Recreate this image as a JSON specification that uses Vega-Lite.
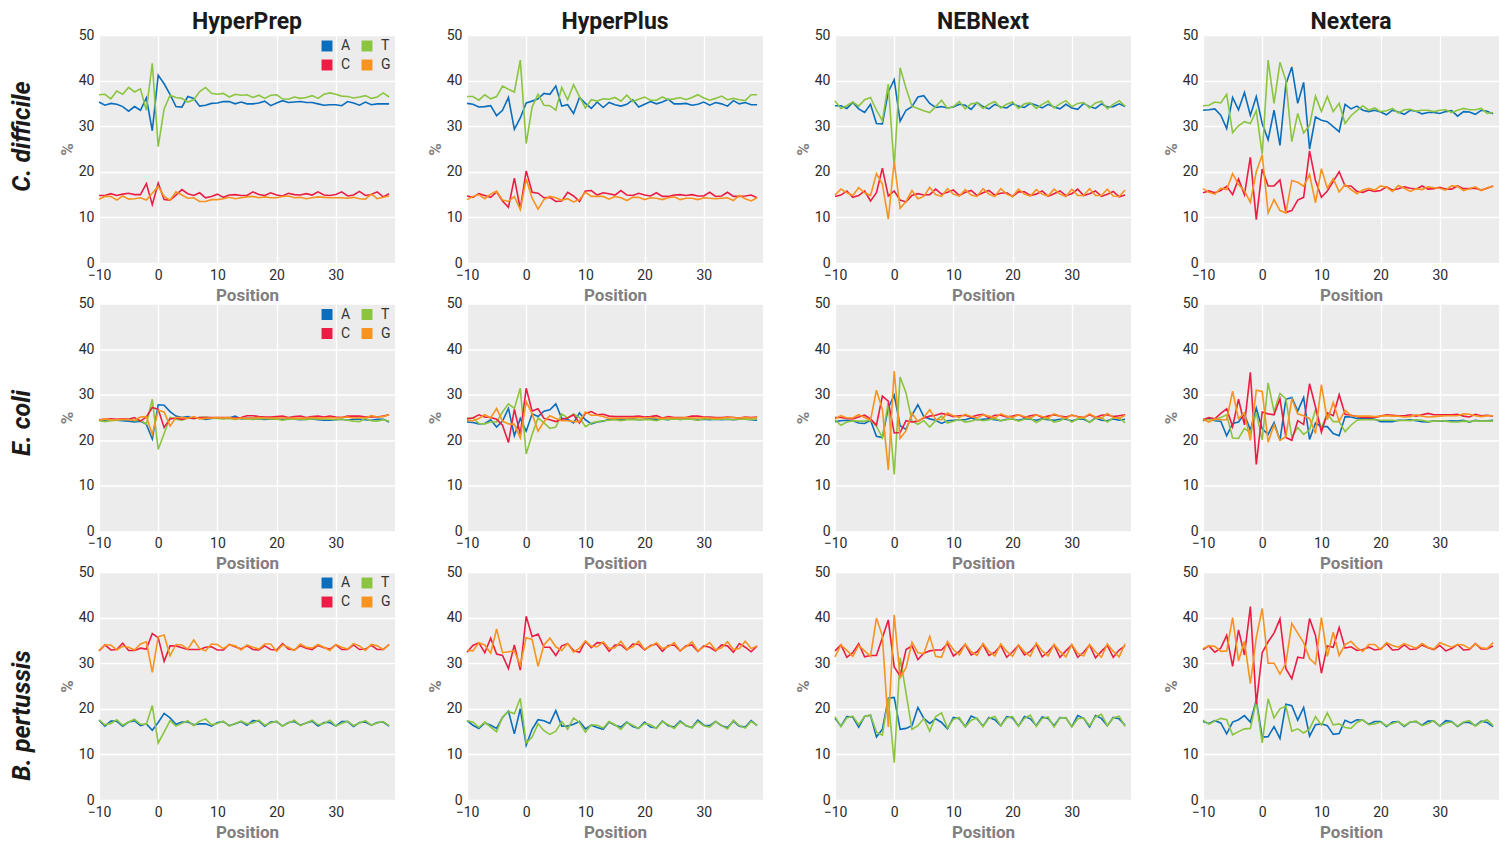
{
"$schema":"https://vega.github.io/schema/vega-lite/v6.json",
"padding":{"left":10,"top":11,"right":0,"bottom":0},
"background":"#ffffff",
"spacing":-6.5,
"resolve":{"scale":{"color":"independent"},"legend":{"color":"independent"}},
"datasets":{
"hyperprep_cdifficile":[
{"pos":-10,"A":35.3,"C":14.8,"G":14,"T":36.9},{"pos":-9,"A":34.6,"C":14.8,"G":14.6,"T":37},{"pos":-8,"A":35,"C":15.2,"G":14.6,"T":36},{"pos":-7,"A":34.8,"C":14.8,"G":13.8,"T":37.7},{"pos":-6,"A":34.3,"C":15.1,"G":14.7,"T":37},{"pos":-5,"A":33.3,"C":15.3,"G":14,"T":38.5},{"pos":-4,"A":34.3,"C":15,"G":14.1,"T":37.5},{"pos":-3,"A":33.5,"C":15,"G":14.3,"T":38.2},{"pos":-2,"A":36.2,"C":17.4,"G":13.8,"T":33.5},{"pos":-1,"A":29,"C":12.8,"G":15.3,"T":43.8},
{"pos":0,"A":41.2,"C":17.5,"G":16.8,"T":25.5},{"pos":1,"A":39.3,"C":13.9,"G":14.6,"T":33.8},{"pos":2,"A":37,"C":13.8,"G":13.8,"T":36.8},{"pos":3,"A":34.3,"C":14.9,"G":15.6,"T":36.3},{"pos":4,"A":34.2,"C":16.1,"G":14.9,"T":36.1},{"pos":5,"A":36.5,"C":15.2,"G":14.2,"T":35.3},{"pos":6,"A":36.1,"C":14.8,"G":14.3,"T":35.8},{"pos":7,"A":34.4,"C":15.4,"G":13.5,"T":37.6},{"pos":8,"A":34.6,"C":14.3,"G":13.5,"T":38.5},{"pos":9,"A":35,"C":14.6,"G":13.9,"T":37.2},
{"pos":10,"A":35.1,"C":15.1,"G":13.9,"T":37},{"pos":11,"A":35.4,"C":14.4,"G":14.1,"T":37.2},{"pos":12,"A":35.4,"C":14.9,"G":14.4,"T":36.4},{"pos":13,"A":34.9,"C":15,"G":14.1,"T":37},{"pos":14,"A":35.3,"C":14.8,"G":14.3,"T":36.8},{"pos":15,"A":34.9,"C":14.8,"G":14.5,"T":36.9},{"pos":16,"A":34.9,"C":15.6,"G":14.6,"T":36.3},{"pos":17,"A":35.1,"C":15,"G":14.3,"T":36.8},{"pos":18,"A":35.5,"C":14.8,"G":14.5,"T":36.1},{"pos":19,"A":34.5,"C":15.4,"G":14.3,"T":36.8},
{"pos":20,"A":35.1,"C":14.9,"G":14.3,"T":36.9},{"pos":21,"A":35.6,"C":14.7,"G":14.6,"T":36},{"pos":22,"A":35.2,"C":15.3,"G":14.7,"T":35.9},{"pos":23,"A":35.3,"C":15,"G":14.3,"T":36.4},{"pos":24,"A":35.4,"C":14.9,"G":14.4,"T":36.1},{"pos":25,"A":35.2,"C":15.2,"G":14.1,"T":36.3},{"pos":26,"A":35.2,"C":14.9,"G":14.3,"T":36.7},{"pos":27,"A":34.9,"C":15.6,"G":14.5,"T":36.1},{"pos":28,"A":34.6,"C":14.9,"G":14.4,"T":37},{"pos":29,"A":34.7,"C":14.8,"G":14.3,"T":37.3},
{"pos":30,"A":34.7,"C":15,"G":14.3,"T":37},{"pos":31,"A":34.5,"C":15.6,"G":14.3,"T":36.6},{"pos":32,"A":35.4,"C":14.7,"G":14.2,"T":36.5},{"pos":33,"A":35.1,"C":14.9,"G":14.4,"T":36.2},{"pos":34,"A":34.6,"C":15.7,"G":14.1,"T":36.4},{"pos":35,"A":35.3,"C":14.8,"G":14,"T":36.7},{"pos":36,"A":34.7,"C":15,"G":15.1,"T":36.1},{"pos":37,"A":34.9,"C":15.6,"G":14.1,"T":36.4},{"pos":38,"A":34.9,"C":14.5,"G":14.4,"T":37.3},{"pos":39,"A":34.9,"C":15.2,"G":14.7,"T":36.4}],
"hyperplus_cdifficile":[
{"pos":-10,"A":35,"C":14.7,"G":13.9,"T":36.5},{"pos":-9,"A":34.8,"C":14.4,"G":14.6,"T":36.5},{"pos":-8,"A":34.2,"C":15.2,"G":15,"T":35.7},{"pos":-7,"A":34.3,"C":14.8,"G":14.1,"T":36.9},{"pos":-6,"A":34.5,"C":14.4,"G":15.1,"T":36},{"pos":-5,"A":32.3,"C":15.6,"G":15.8,"T":36.5},{"pos":-4,"A":33.5,"C":13.6,"G":13.8,"T":38.8},{"pos":-3,"A":36.3,"C":12.2,"G":13.5,"T":38.1},{"pos":-2,"A":29.3,"C":18.6,"G":14.6,"T":37.5},{"pos":-1,"A":31.8,"C":11.9,"G":11.7,"T":44.5},
{"pos":0,"A":35.1,"C":20.2,"G":18.4,"T":26.2},{"pos":1,"A":35.5,"C":15.5,"G":14.2,"T":34.2},{"pos":2,"A":36,"C":15.3,"G":11.8,"T":37},{"pos":3,"A":37.2,"C":14.3,"G":13.9,"T":34.6},{"pos":4,"A":37,"C":14.4,"G":14.6,"T":34.5},{"pos":5,"A":38.8,"C":13.5,"G":14.3,"T":33.5},{"pos":6,"A":34.4,"C":13.6,"G":13.8,"T":38.5},{"pos":7,"A":34.7,"C":15.5,"G":14.1,"T":35.8},{"pos":8,"A":32.8,"C":14.7,"G":13.4,"T":39.1},{"pos":9,"A":36.3,"C":13.5,"G":13.9,"T":36.5},
{"pos":10,"A":35,"C":15.8,"G":15.5,"T":34},{"pos":11,"A":33.9,"C":15.9,"G":14.6,"T":35.8},{"pos":12,"A":35.3,"C":14.9,"G":14.6,"T":35.5},{"pos":13,"A":34.1,"C":15.4,"G":14.6,"T":36},{"pos":14,"A":35.2,"C":15.2,"G":14,"T":35.9},{"pos":15,"A":34.7,"C":14.9,"G":14.6,"T":36.3},{"pos":16,"A":34.4,"C":15.9,"G":14.3,"T":35.5},{"pos":17,"A":34.8,"C":14.9,"G":13.7,"T":36.8},{"pos":18,"A":35.8,"C":14.8,"G":14.4,"T":35.4},{"pos":19,"A":34.2,"C":15.3,"G":14.4,"T":35.9},
{"pos":20,"A":34.8,"C":14.9,"G":13.9,"T":36.4},{"pos":21,"A":35.4,"C":14.7,"G":14.3,"T":35.7},{"pos":22,"A":34.9,"C":15.4,"G":14.2,"T":35.7},{"pos":23,"A":35.3,"C":14.6,"G":13.9,"T":36.4},{"pos":24,"A":35.9,"C":14.6,"G":14.3,"T":35.8},{"pos":25,"A":34.9,"C":14.9,"G":14.5,"T":36},{"pos":26,"A":34.9,"C":15,"G":13.9,"T":36.3},{"pos":27,"A":35,"C":14.8,"G":14.2,"T":35.8},{"pos":28,"A":34.6,"C":15,"G":14.2,"T":36.3},{"pos":29,"A":34.8,"C":14.7,"G":13.9,"T":36.9},
{"pos":30,"A":35.3,"C":14.7,"G":14.3,"T":36.2},{"pos":31,"A":34.6,"C":15.5,"G":14.2,"T":35.7},{"pos":32,"A":35.2,"C":14.6,"G":14.1,"T":36.1},{"pos":33,"A":34.9,"C":14.7,"G":14.2,"T":36.6},{"pos":34,"A":34.4,"C":15.5,"G":14.3,"T":35.8},{"pos":35,"A":35.6,"C":14.6,"G":13.7,"T":36.1},{"pos":36,"A":34.9,"C":14.6,"G":14.8,"T":35.8},{"pos":37,"A":35.2,"C":14.7,"G":14.1,"T":35.6},{"pos":38,"A":34.7,"C":14.9,"G":13.6,"T":36.9},{"pos":39,"A":34.7,"C":14.3,"G":14.3,"T":36.9}],
"nebnext_cdifficile":[
{"pos":-10,"A":34.5,"C":14.6,"G":14.9,"T":35.5},{"pos":-9,"A":34.5,"C":14.9,"G":16.2,"T":33.9},{"pos":-8,"A":33.9,"C":15.8,"G":15.4,"T":34.5},{"pos":-7,"A":35.2,"C":14.4,"G":14.8,"T":35.3},{"pos":-6,"A":33.8,"C":14.8,"G":16.5,"T":34.4},{"pos":-5,"A":33,"C":15.8,"G":15.4,"T":35.8},{"pos":-4,"A":34.8,"C":13.6,"G":14.8,"T":36.3},{"pos":-3,"A":30.6,"C":15.4,"G":19.6,"T":33.5},{"pos":-2,"A":30.5,"C":20.8,"G":17.3,"T":31.2},{"pos":-1,"A":37.5,"C":14.7,"G":9.6,"T":39.2},
{"pos":0,"A":40.2,"C":15.8,"G":22.2,"T":21},{"pos":1,"A":31.1,"C":13.8,"G":12,"T":42.8},{"pos":2,"A":33.5,"C":13.4,"G":13.5,"T":38.3},{"pos":3,"A":34.3,"C":14.8,"G":15.9,"T":34.4},{"pos":4,"A":36.4,"C":15.2,"G":14.1,"T":33.9},{"pos":5,"A":36.7,"C":14.9,"G":14.6,"T":33.4},{"pos":6,"A":35,"C":15,"G":16.6,"T":33},{"pos":7,"A":34.1,"C":16.2,"G":15,"T":34.3},{"pos":8,"A":34.3,"C":15.1,"G":14.6,"T":35.7},{"pos":9,"A":34,"C":15.5,"G":16.3,"T":33.9},
{"pos":10,"A":34.2,"C":16,"G":15.1,"T":34.3},{"pos":11,"A":34.8,"C":14.8,"G":14.7,"T":35.4},{"pos":12,"A":34.6,"C":15.5,"G":16.1,"T":33.8},{"pos":13,"A":33.7,"C":15.9,"G":14.9,"T":34.9},{"pos":14,"A":35.2,"C":14.8,"G":14.6,"T":35.1},{"pos":15,"A":34.3,"C":15.4,"G":16.3,"T":33.9},{"pos":16,"A":33.8,"C":15.9,"G":15.1,"T":34.8},{"pos":17,"A":34.8,"C":14.9,"G":14.6,"T":35.4},{"pos":18,"A":34.2,"C":15.3,"G":16.3,"T":34},{"pos":19,"A":34,"C":15.4,"G":15.1,"T":34.8},
{"pos":20,"A":34.9,"C":14.6,"G":14.6,"T":35.3},{"pos":21,"A":34.4,"C":15.6,"G":16.2,"T":33.9},{"pos":22,"A":34.1,"C":15.6,"G":15.1,"T":34.9},{"pos":23,"A":35,"C":14.8,"G":14.7,"T":35.1},{"pos":24,"A":34.6,"C":15.1,"G":16.1,"T":33.9},{"pos":25,"A":34,"C":15.8,"G":15.1,"T":34.8},{"pos":26,"A":34.8,"C":14.6,"G":14.7,"T":35.5},{"pos":27,"A":34.2,"C":15.2,"G":16.2,"T":34},{"pos":28,"A":33.8,"C":15.8,"G":15.1,"T":34.9},{"pos":29,"A":34.8,"C":14.8,"G":14.6,"T":35.6},
{"pos":30,"A":34,"C":15.2,"G":16.2,"T":34.3},{"pos":31,"A":33.7,"C":16.2,"G":14.8,"T":35},{"pos":32,"A":35,"C":14.8,"G":14.8,"T":35.2},{"pos":33,"A":34.3,"C":15.2,"G":16.3,"T":34},{"pos":34,"A":33.9,"C":15.8,"G":14.8,"T":35.1},{"pos":35,"A":34.9,"C":14.6,"G":14.8,"T":35.5},{"pos":36,"A":34.2,"C":15.1,"G":16.2,"T":33.8},{"pos":37,"A":34.3,"C":15.7,"G":14.7,"T":34.8},{"pos":38,"A":34.9,"C":14.5,"G":14.6,"T":35.6},{"pos":39,"A":34.3,"C":14.9,"G":16,"T":34.4}],
"nextera_cdifficile":[
{"pos":-10,"A":33.5,"C":15.4,"G":16.3,"T":34.5},{"pos":-9,"A":33.6,"C":15.8,"G":15.5,"T":34.6},{"pos":-8,"A":33.8,"C":15.4,"G":15.1,"T":35.3},{"pos":-7,"A":32.4,"C":15.9,"G":16.4,"T":35.1},{"pos":-6,"A":29.5,"C":16.8,"G":16.1,"T":37},{"pos":-5,"A":36.3,"C":15,"G":19.6,"T":28.6},{"pos":-4,"A":33.6,"C":18.4,"G":17.2,"T":30.1},{"pos":-3,"A":37.4,"C":15,"G":15.8,"T":31},{"pos":-2,"A":32.4,"C":23.2,"G":13.3,"T":30.6},{"pos":-1,"A":36.5,"C":9.5,"G":20,"T":33.4},
{"pos":0,"A":30.6,"C":20.6,"G":23.7,"T":23.8},{"pos":1,"A":27,"C":16.9,"G":11,"T":44.5},{"pos":2,"A":33.5,"C":16.9,"G":13.9,"T":35},{"pos":3,"A":25.8,"C":18.2,"G":11.5,"T":44},{"pos":4,"A":39.2,"C":11.1,"G":11,"T":40},{"pos":5,"A":43,"C":11.5,"G":18.1,"T":26.6},{"pos":6,"A":35,"C":13.8,"G":17.7,"T":32.8},{"pos":7,"A":39.6,"C":14.4,"G":16.8,"T":28.5},{"pos":8,"A":25,"C":24.6,"G":19.4,"T":30.2},{"pos":9,"A":32,"C":18.1,"G":13.2,"T":36.6},
{"pos":10,"A":31.3,"C":14.4,"G":20.7,"T":33.2},{"pos":11,"A":31,"C":15.8,"G":16.4,"T":36.5},{"pos":12,"A":29.9,"C":17.9,"G":18.5,"T":33.2},{"pos":13,"A":28.8,"C":20,"G":15.6,"T":35},{"pos":14,"A":34.8,"C":16.9,"G":17.2,"T":30.6},{"pos":15,"A":33.8,"C":16.9,"G":16.1,"T":32.3},{"pos":16,"A":34.4,"C":15.7,"G":15.2,"T":33.4},{"pos":17,"A":33.5,"C":15.5,"G":16,"T":34.5},{"pos":18,"A":33.2,"C":16,"G":16.4,"T":33.5},{"pos":19,"A":33.5,"C":15.7,"G":16,"T":34},
{"pos":20,"A":33.1,"C":15.9,"G":16.9,"T":33.2},{"pos":21,"A":32.5,"C":16.7,"G":16.6,"T":33.4},{"pos":22,"A":33.5,"C":16,"G":15.7,"T":33.9},{"pos":23,"A":33.1,"C":16.3,"G":17,"T":32.9},{"pos":24,"A":32.6,"C":16.7,"G":16.4,"T":33.6},{"pos":25,"A":33.5,"C":16.4,"G":15.7,"T":33.7},{"pos":26,"A":33.3,"C":16.2,"G":16.3,"T":33.3},{"pos":27,"A":32.7,"C":16.9,"G":16.1,"T":33.5},{"pos":28,"A":33,"C":16.2,"G":16.7,"T":33.5},{"pos":29,"A":33,"C":16.3,"G":16.5,"T":33.2},
{"pos":30,"A":32.8,"C":16.6,"G":16.4,"T":33.5},{"pos":31,"A":33.2,"C":16.2,"G":16,"T":33.6},{"pos":32,"A":33.4,"C":16.2,"G":16.9,"T":33},{"pos":33,"A":32.2,"C":16.9,"G":16.8,"T":33.5},{"pos":34,"A":33.2,"C":16.3,"G":15.9,"T":33.9},{"pos":35,"A":33.1,"C":16.3,"G":16.3,"T":33.6},{"pos":36,"A":32.6,"C":16.4,"G":16.7,"T":33.6},{"pos":37,"A":33.5,"C":16,"G":15.9,"T":33.9},{"pos":38,"A":33.3,"C":16.4,"G":16.5,"T":32.8},{"pos":39,"A":32.7,"C":16.9,"G":16.8,"T":33}],
"hyperprep_ecoli":[
{"pos":-10,"A":24.5,"C":24.5,"G":24.4,"T":24.3},{"pos":-9,"A":24.4,"C":24.6,"G":24.7,"T":24.1},{"pos":-8,"A":24.5,"C":24.7,"G":24.5,"T":24.3},{"pos":-7,"A":24.4,"C":24.6,"G":24.5,"T":24.4},{"pos":-6,"A":24.3,"C":24.7,"G":24.6,"T":24.5},{"pos":-5,"A":24.2,"C":24.6,"G":24.5,"T":24.6},{"pos":-4,"A":24,"C":25,"G":24.4,"T":24.3},{"pos":-3,"A":24.2,"C":24.2,"G":25.1,"T":24.4},{"pos":-2,"A":23.5,"C":25.1,"G":25.2,"T":23.6},{"pos":-1,"A":20.3,"C":27.2,"G":21.3,"T":29},
{"pos":0,"A":27.8,"C":26.8,"G":26.6,"T":18},{"pos":1,"A":27.7,"C":22.8,"G":26.2,"T":21.5},{"pos":2,"A":26.3,"C":24.7,"G":23.1,"T":25},{"pos":3,"A":25.3,"C":24.9,"G":25,"T":24.6},{"pos":4,"A":25,"C":24.6,"G":25,"T":24.4},{"pos":5,"A":25.2,"C":24.9,"G":24.8,"T":24.9},{"pos":6,"A":24.8,"C":24.8,"G":25.2,"T":24.8},{"pos":7,"A":24.9,"C":25,"G":24.7,"T":25},{"pos":8,"A":24.6,"C":25,"G":24.8,"T":25.1},{"pos":9,"A":24.8,"C":25,"G":24.9,"T":24.9},
{"pos":10,"A":24.9,"C":25,"G":25,"T":24.8},{"pos":11,"A":24.8,"C":25,"G":24.9,"T":24.7},{"pos":12,"A":24.9,"C":25,"G":25,"T":24.8},{"pos":13,"A":25.3,"C":24.9,"G":24.7,"T":24.6},{"pos":14,"A":24.7,"C":25,"G":24.9,"T":24.8},{"pos":15,"A":24.8,"C":25.4,"G":24.8,"T":24.7},{"pos":16,"A":24.8,"C":25.4,"G":24.9,"T":24.6},{"pos":17,"A":24.7,"C":25.2,"G":25,"T":24.7},{"pos":18,"A":24.6,"C":25.1,"G":24.9,"T":24.8},{"pos":19,"A":24.7,"C":25.1,"G":24.9,"T":24.7},
{"pos":20,"A":24.6,"C":25.2,"G":24.9,"T":24.6},{"pos":21,"A":24.6,"C":25.3,"G":24.9,"T":24.4},{"pos":22,"A":24.7,"C":25,"G":24.9,"T":24.6},{"pos":23,"A":24.6,"C":25.2,"G":24.9,"T":24.7},{"pos":24,"A":24.5,"C":25.3,"G":24.8,"T":24.6},{"pos":25,"A":24.6,"C":25,"G":24.9,"T":24.5},{"pos":26,"A":24.7,"C":25.2,"G":25,"T":24.7},{"pos":27,"A":24.5,"C":25.3,"G":24.9,"T":24.7},{"pos":28,"A":24.4,"C":25.1,"G":24.9,"T":24.6},{"pos":29,"A":24.4,"C":25.3,"G":25,"T":24.6},
{"pos":30,"A":24.5,"C":25.1,"G":24.9,"T":24.5},{"pos":31,"A":24.6,"C":25,"G":25,"T":24.6},{"pos":32,"A":24.4,"C":25.3,"G":25.1,"T":24.4},{"pos":33,"A":24.6,"C":25.3,"G":24.9,"T":24.2},{"pos":34,"A":24.6,"C":25.3,"G":25,"T":24.1},{"pos":35,"A":24.5,"C":25.1,"G":24.9,"T":24.8},{"pos":36,"A":24.4,"C":25.2,"G":25.4,"T":24.3},{"pos":37,"A":24.6,"C":25.1,"G":25.1,"T":24.2},{"pos":38,"A":24.6,"C":25.3,"G":25.2,"T":24.5},{"pos":39,"A":24,"C":25.6,"G":25.6,"T":24.2}],
"hyperplus_ecoli":[
{"pos":-10,"A":24,"C":24.7,"G":24.4,"T":24.8},{"pos":-9,"A":23.9,"C":24.9,"G":24.3,"T":24.9},{"pos":-8,"A":23.6,"C":25.6,"G":24.8,"T":23.7},{"pos":-7,"A":23.7,"C":25.1,"G":25.6,"T":23.6},{"pos":-6,"A":24.5,"C":25,"G":24.9,"T":24},{"pos":-5,"A":22.9,"C":24.6,"G":27,"T":24},{"pos":-4,"A":24.2,"C":23.3,"G":24.2,"T":26.2},{"pos":-3,"A":27,"C":19.5,"G":23.6,"T":28},{"pos":-2,"A":21,"C":26.8,"G":23.5,"T":27},{"pos":-1,"A":24.8,"C":21.3,"G":20.5,"T":31.4},
{"pos":0,"A":22,"C":31.4,"G":28.5,"T":17},{"pos":1,"A":25.8,"C":26.4,"G":25.8,"T":21.3},{"pos":2,"A":25.2,"C":26.9,"G":22,"T":24.9},{"pos":3,"A":26.4,"C":24.8,"G":24.1,"T":23.8},{"pos":4,"A":26.7,"C":24.5,"G":25.4,"T":22.6},{"pos":5,"A":28,"C":24.1,"G":24.8,"T":22.9},{"pos":6,"A":24.8,"C":24.6,"G":24.3,"T":25.8},{"pos":7,"A":24.6,"C":24.9,"G":24.3,"T":24.9},{"pos":8,"A":23.8,"C":25.6,"G":24.1,"T":25.8},{"pos":9,"A":26,"C":23.8,"G":24.1,"T":25},
{"pos":10,"A":24.5,"C":25.9,"G":26.2,"T":23},{"pos":11,"A":23.6,"C":26.3,"G":25.5,"T":23.8},{"pos":12,"A":24,"C":25.6,"G":25.5,"T":24.1},{"pos":13,"A":24.2,"C":25.7,"G":25.2,"T":24.3},{"pos":14,"A":24.6,"C":25.3,"G":24.8,"T":24.4},{"pos":15,"A":24.7,"C":25.2,"G":24.8,"T":24.5},{"pos":16,"A":24.6,"C":25.2,"G":24.8,"T":24.3},{"pos":17,"A":24.6,"C":25.2,"G":24.9,"T":24.5},{"pos":18,"A":24.7,"C":25.2,"G":24.9,"T":24.5},{"pos":19,"A":24.5,"C":25.3,"G":25,"T":24.5},
{"pos":20,"A":24.6,"C":25.1,"G":24.9,"T":24.5},{"pos":21,"A":24.7,"C":25.2,"G":25,"T":24.5},{"pos":22,"A":24.6,"C":25.4,"G":24.9,"T":24.3},{"pos":23,"A":24.6,"C":24.9,"G":24.8,"T":24.7},{"pos":24,"A":24.5,"C":25.2,"G":24.9,"T":24.6},{"pos":25,"A":24.8,"C":25,"G":24.9,"T":24.7},{"pos":26,"A":24.6,"C":25,"G":24.9,"T":24.6},{"pos":27,"A":24.7,"C":25,"G":25,"T":24.7},{"pos":28,"A":24.6,"C":25.3,"G":24.9,"T":24.6},{"pos":29,"A":24.5,"C":25.3,"G":24.9,"T":24.4},
{"pos":30,"A":24.6,"C":25.1,"G":25,"T":24.7},{"pos":31,"A":24.5,"C":25.1,"G":24.9,"T":24.7},{"pos":32,"A":24.6,"C":25,"G":24.8,"T":24.6},{"pos":33,"A":24.5,"C":25,"G":24.9,"T":24.7},{"pos":34,"A":24.6,"C":25.1,"G":25,"T":24.6},{"pos":35,"A":24.5,"C":25,"G":25,"T":24.5},{"pos":36,"A":24.6,"C":24.9,"G":24.9,"T":24.6},{"pos":37,"A":24.6,"C":25.1,"G":25,"T":24.7},{"pos":38,"A":24.5,"C":25,"G":24.9,"T":24.6},{"pos":39,"A":24.4,"C":25.1,"G":25,"T":24.7}],
"nebnext_ecoli":[
{"pos":-10,"A":24.1,"C":25,"G":24.7,"T":24.5},{"pos":-9,"A":24.3,"C":25,"G":25.4,"T":23.3},{"pos":-8,"A":24.4,"C":24.8,"G":24.9,"T":24},{"pos":-7,"A":24.3,"C":24.7,"G":24.9,"T":24.3},{"pos":-6,"A":23.8,"C":25.1,"G":25.6,"T":24.2},{"pos":-5,"A":23.7,"C":25.5,"G":25,"T":24.2},{"pos":-4,"A":24.4,"C":24.7,"G":24.4,"T":24.4},{"pos":-3,"A":20.9,"C":23.3,"G":31,"T":23.1},{"pos":-2,"A":20.6,"C":29.7,"G":26.8,"T":20.6},{"pos":-1,"A":27.1,"C":28.6,"G":13.5,"T":28.3},
{"pos":0,"A":29.9,"C":21.6,"G":35.2,"T":12.5},{"pos":1,"A":23.2,"C":21.7,"G":20.4,"T":33.9},{"pos":2,"A":22.4,"C":24.3,"G":22.1,"T":30.4},{"pos":3,"A":25.5,"C":24,"G":26,"T":24.2},{"pos":4,"A":27.8,"C":24.2,"G":24.1,"T":23.5},{"pos":5,"A":25.2,"C":24.9,"G":25,"T":24.3},{"pos":6,"A":24.7,"C":25.3,"G":26.7,"T":22.9},{"pos":7,"A":24.4,"C":25.5,"G":24.6,"T":24.3},{"pos":8,"A":23.7,"C":25.9,"G":24.5,"T":25.3},{"pos":9,"A":24.3,"C":25.6,"G":26,"T":23.8},
{"pos":10,"A":24.4,"C":25.2,"G":25.4,"T":24.2},{"pos":11,"A":24.5,"C":25.4,"G":25,"T":24.6},{"pos":12,"A":24.5,"C":25.5,"G":25.7,"T":24},{"pos":13,"A":24.9,"C":25.1,"G":25.2,"T":24.2},{"pos":14,"A":24.5,"C":25.5,"G":24.9,"T":24.6},{"pos":15,"A":24.6,"C":25.7,"G":25.6,"T":24.3},{"pos":16,"A":24.7,"C":24.9,"G":25.3,"T":24.5},{"pos":17,"A":24.5,"C":25.5,"G":24.9,"T":24.8},{"pos":18,"A":24.3,"C":25.5,"G":25.8,"T":24.3},{"pos":19,"A":24.6,"C":25.1,"G":25.3,"T":24.5},
{"pos":20,"A":24.6,"C":25.3,"G":25,"T":24.7},{"pos":21,"A":24.4,"C":25.6,"G":25.6,"T":24.2},{"pos":22,"A":24.7,"C":25,"G":25.2,"T":24.6},{"pos":23,"A":24.6,"C":25.4,"G":24.9,"T":24.8},{"pos":24,"A":24.4,"C":25.6,"G":25.6,"T":23.9},{"pos":25,"A":24.7,"C":25,"G":25.2,"T":24.6},{"pos":26,"A":24.5,"C":25.3,"G":24.9,"T":24.8},{"pos":27,"A":24.4,"C":25.6,"G":25.8,"T":24},{"pos":28,"A":24.6,"C":25.3,"G":25.3,"T":24.3},{"pos":29,"A":24.6,"C":25.1,"G":24.8,"T":24.9},
{"pos":30,"A":24.3,"C":25.5,"G":25.6,"T":24},{"pos":31,"A":24.6,"C":25.2,"G":25.1,"T":24.7},{"pos":32,"A":24.6,"C":25,"G":25,"T":24.9},{"pos":33,"A":24,"C":25.6,"G":25.8,"T":23.9},{"pos":34,"A":24.9,"C":25,"G":25.1,"T":24.8},{"pos":35,"A":24.4,"C":25.5,"G":24.8,"T":25},{"pos":36,"A":24.3,"C":25.6,"G":25.9,"T":24},{"pos":37,"A":24.7,"C":25.2,"G":25,"T":24.9},{"pos":38,"A":24.4,"C":25.4,"G":24.8,"T":24.9},{"pos":39,"A":24.6,"C":25.6,"G":25.5,"T":23.8}],
"nextera_ecoli":[
{"pos":-10,"A":24.3,"C":24.5,"G":24.6,"T":24.6},{"pos":-9,"A":24.8,"C":25,"G":24,"T":24.5},{"pos":-8,"A":24.3,"C":24.7,"G":24.7,"T":24.5},{"pos":-7,"A":24.2,"C":25.9,"G":24.5,"T":25},{"pos":-6,"A":21,"C":26.9,"G":24.5,"T":25.6},{"pos":-5,"A":23.7,"C":23,"G":30.8,"T":20.5},{"pos":-4,"A":24,"C":29,"G":24.7,"T":20.4},{"pos":-3,"A":25.8,"C":23.4,"G":26,"T":22.6},{"pos":-2,"A":22.2,"C":34.9,"G":20,"T":21.6},{"pos":-1,"A":27.1,"C":14.7,"G":31,"T":26},
{"pos":0,"A":22.5,"C":26.2,"G":30.7,"T":20.1},{"pos":1,"A":21.3,"C":25.8,"G":19.6,"T":32.6},{"pos":2,"A":23.9,"C":25.6,"G":23.4,"T":26.3},{"pos":3,"A":20,"C":29.1,"G":20,"T":30.3},{"pos":4,"A":29,"C":20.6,"G":20.8,"T":29.1},{"pos":5,"A":29.4,"C":20,"G":29.1,"T":20.7},{"pos":6,"A":26.4,"C":24.3,"G":25.8,"T":22.8},{"pos":7,"A":29.4,"C":23.5,"G":25.4,"T":21.3},{"pos":8,"A":20.2,"C":32.4,"G":24.8,"T":22.3},{"pos":9,"A":23.8,"C":27.3,"G":21.5,"T":26.7},
{"pos":10,"A":23,"C":21.8,"G":32.2,"T":22.7},{"pos":11,"A":23,"C":26,"G":24.5,"T":25.8},{"pos":12,"A":21.5,"C":25.4,"G":28.3,"T":24.1},{"pos":13,"A":21,"C":30,"G":24.2,"T":24.1},{"pos":14,"A":25.2,"C":25.7,"G":26.6,"T":21.9},{"pos":15,"A":25.1,"C":25.5,"G":25.4,"T":23.3},{"pos":16,"A":24.8,"C":25.2,"G":25.3,"T":24.4},{"pos":17,"A":24.8,"C":25,"G":25.3,"T":24.5},{"pos":18,"A":24.8,"C":25,"G":25.3,"T":24.5},{"pos":19,"A":24.6,"C":25,"G":25.2,"T":24.5},
{"pos":20,"A":24.1,"C":25.3,"G":25.3,"T":24.4},{"pos":21,"A":24.1,"C":25.6,"G":25.4,"T":24.4},{"pos":22,"A":24.1,"C":25.5,"G":25.3,"T":24.4},{"pos":23,"A":24.4,"C":25.4,"G":25.3,"T":24.3},{"pos":24,"A":24.4,"C":25.4,"G":25.1,"T":24.4},{"pos":25,"A":24.5,"C":25.6,"G":25.2,"T":24.3},{"pos":26,"A":24.3,"C":25.3,"G":25.6,"T":24.5},{"pos":27,"A":24.1,"C":25.6,"G":25.3,"T":24.4},{"pos":28,"A":24,"C":25.9,"G":25.1,"T":24.1},{"pos":29,"A":24.3,"C":25.6,"G":25.2,"T":24.2},
{"pos":30,"A":24.2,"C":25.6,"G":25.3,"T":24.3},{"pos":31,"A":24.2,"C":25.6,"G":25.4,"T":24.2},{"pos":32,"A":24.3,"C":25.6,"G":25.4,"T":24},{"pos":33,"A":24.2,"C":25.7,"G":25.4,"T":24},{"pos":34,"A":24.4,"C":25.3,"G":25.8,"T":24.2},{"pos":35,"A":24,"C":25.1,"G":25.7,"T":24.1},{"pos":36,"A":24.4,"C":25.7,"G":25.4,"T":24.3},{"pos":37,"A":24.2,"C":25.4,"G":25.2,"T":24.2},{"pos":38,"A":24.3,"C":25.5,"G":25.4,"T":24.2},{"pos":39,"A":24.4,"C":25.3,"G":25.4,"T":24.2}],
"hyperprep_bpertussis":[
{"pos":-10,"A":17.5,"C":32.7,"G":32.8,"T":17.6},{"pos":-9,"A":16.2,"C":34,"G":34,"T":16.5},{"pos":-8,"A":17.3,"C":32.9,"G":34,"T":16.8},{"pos":-7,"A":17.3,"C":33,"G":32.9,"T":17.6},{"pos":-6,"A":16.2,"C":34.4,"G":33.7,"T":16.4},{"pos":-5,"A":17.1,"C":32.8,"G":33.5,"T":17.1},{"pos":-4,"A":17.4,"C":32.8,"G":32.9,"T":17.7},{"pos":-3,"A":16.3,"C":33.3,"G":34.2,"T":16.6},{"pos":-2,"A":16.7,"C":33.1,"G":34.7,"T":16.6},{"pos":-1,"A":15.3,"C":36.5,"G":28,"T":20.7},
{"pos":0,"A":17,"C":35.6,"G":35.8,"T":12.5},{"pos":1,"A":19,"C":30.4,"G":36.2,"T":14.9},{"pos":2,"A":18,"C":33.8,"G":31.6,"T":17.4},{"pos":3,"A":16.6,"C":33.8,"G":34.1,"T":16.2},{"pos":4,"A":17.1,"C":33.4,"G":34,"T":16.8},{"pos":5,"A":17.1,"C":33,"G":33.1,"T":17.4},{"pos":6,"A":16.5,"C":33,"G":35.1,"T":16.3},{"pos":7,"A":16.7,"C":33,"G":33.2,"T":17.3},{"pos":8,"A":16.7,"C":33.5,"G":32.7,"T":17.8},{"pos":9,"A":16.2,"C":33.6,"G":34.2,"T":16.5},
{"pos":10,"A":17,"C":32.9,"G":34.1,"T":16.8},{"pos":11,"A":17.2,"C":32.9,"G":33.2,"T":17.3},{"pos":12,"A":16.3,"C":34.1,"G":34,"T":16.2},{"pos":13,"A":16.7,"C":33.6,"G":33.8,"T":16.8},{"pos":14,"A":17.2,"C":33.1,"G":32.9,"T":17.3},{"pos":15,"A":16.4,"C":33.8,"G":34,"T":16.7},{"pos":16,"A":17.4,"C":33,"G":33.5,"T":16.9},{"pos":17,"A":17.3,"C":32.9,"G":33.1,"T":17.5},{"pos":18,"A":16.2,"C":33.8,"G":34.2,"T":16.4},{"pos":19,"A":17.1,"C":33,"G":34.2,"T":16.9},
{"pos":20,"A":17.2,"C":32.9,"G":32.6,"T":17.3},{"pos":21,"A":16.2,"C":34.3,"G":34,"T":16.2},{"pos":22,"A":17,"C":33.1,"G":33.5,"T":16.9},{"pos":23,"A":17.2,"C":32.9,"G":32.8,"T":17.5},{"pos":24,"A":16.4,"C":33.8,"G":34.2,"T":16.3},{"pos":25,"A":16.9,"C":33.3,"G":33.5,"T":16.9},{"pos":26,"A":17.3,"C":33,"G":33.3,"T":17.5},{"pos":27,"A":16.2,"C":33.9,"G":34.1,"T":16.5},{"pos":28,"A":17,"C":33.4,"G":33.5,"T":16.8},{"pos":29,"A":17,"C":33.1,"G":32.8,"T":17.5},
{"pos":30,"A":16.2,"C":34,"G":34.1,"T":16.2},{"pos":31,"A":17.2,"C":33,"G":33.5,"T":16.8},{"pos":32,"A":17.2,"C":33,"G":33.1,"T":17.3},{"pos":33,"A":16.1,"C":34,"G":34.3,"T":16.3},{"pos":34,"A":17,"C":33,"G":33.8,"T":16.9},{"pos":35,"A":17.1,"C":33.1,"G":32.8,"T":17.4},{"pos":36,"A":16.4,"C":33.9,"G":34.1,"T":16.4},{"pos":37,"A":17,"C":33,"G":33.8,"T":16.9},{"pos":38,"A":17.1,"C":33,"G":33,"T":17.2},{"pos":39,"A":16.2,"C":34.1,"G":34,"T":16.3}],
"hyperplus_bpertussis":[
{"pos":-10,"A":17.4,"C":32.4,"G":32.8,"T":17.4},{"pos":-9,"A":16.4,"C":33.9,"G":32.7,"T":17.1},{"pos":-8,"A":15.7,"C":34.5,"G":34.5,"T":15.9},{"pos":-7,"A":16.9,"C":32.3,"G":34,"T":17.1},{"pos":-6,"A":16.4,"C":35.5,"G":32.2,"T":16},{"pos":-5,"A":15.7,"C":32,"G":37.5,"T":15},{"pos":-4,"A":18.1,"C":31.7,"G":32.3,"T":18.2},{"pos":-3,"A":19.5,"C":28.8,"G":32.5,"T":19.4},{"pos":-2,"A":14.5,"C":34,"G":32.7,"T":18.9},{"pos":-1,"A":20,"C":28.5,"G":29.6,"T":22.3},
{"pos":0,"A":12,"C":40.3,"G":35.6,"T":12.5},{"pos":1,"A":15.5,"C":35.8,"G":35.2,"T":13.8},{"pos":2,"A":17.6,"C":36.4,"G":29.3,"T":16.7},{"pos":3,"A":17.4,"C":33.5,"G":34,"T":15.2},{"pos":4,"A":16.8,"C":33.5,"G":35.5,"T":14.4},{"pos":5,"A":19.6,"C":31.7,"G":33.6,"T":15.1},{"pos":6,"A":16.2,"C":33.8,"G":32.8,"T":17.2},{"pos":7,"A":16.2,"C":34.3,"G":34.3,"T":15.5},{"pos":8,"A":16.6,"C":32.8,"G":32.4,"T":18},{"pos":9,"A":17.2,"C":32.4,"G":33.3,"T":17},
{"pos":10,"A":15.6,"C":34.8,"G":34.9,"T":14.9},{"pos":11,"A":16.4,"C":33.4,"G":33.7,"T":16.5},{"pos":12,"A":15.9,"C":34.5,"G":33.6,"T":16.4},{"pos":13,"A":15.5,"C":34.4,"G":34.7,"T":15.8},{"pos":14,"A":17.1,"C":32.6,"G":33.2,"T":17.2},{"pos":15,"A":16.4,"C":34,"G":33.4,"T":16.5},{"pos":16,"A":16,"C":34,"G":34.8,"T":15.5},{"pos":17,"A":17.1,"C":32.9,"G":33,"T":17},{"pos":18,"A":16.1,"C":34.2,"G":33.6,"T":16.4},{"pos":19,"A":15.7,"C":34.1,"G":34.8,"T":15.7},
{"pos":20,"A":17.1,"C":32.9,"G":33,"T":16.8},{"pos":21,"A":16,"C":33.9,"G":33.7,"T":16.5},{"pos":22,"A":15.8,"C":34.2,"G":34.5,"T":15.7},{"pos":23,"A":17.3,"C":32.6,"G":33.2,"T":17.2},{"pos":24,"A":16.3,"C":33.9,"G":33.6,"T":16.5},{"pos":25,"A":16,"C":34,"G":34.5,"T":15.7},{"pos":26,"A":17.3,"C":32.7,"G":32.8,"T":17.1},{"pos":27,"A":16.3,"C":33.8,"G":33.6,"T":16.4},{"pos":28,"A":15.9,"C":34,"G":34.7,"T":15.8},{"pos":29,"A":17.5,"C":32.6,"G":32.7,"T":17.2},
{"pos":30,"A":16.4,"C":33.8,"G":33.6,"T":16.3},{"pos":31,"A":16.3,"C":33.5,"G":34.5,"T":16},{"pos":32,"A":17.2,"C":32.7,"G":32.9,"T":17.2},{"pos":33,"A":16.3,"C":34,"G":33.4,"T":16.3},{"pos":34,"A":15.9,"C":33.8,"G":34.7,"T":15.6},{"pos":35,"A":17.3,"C":32.4,"G":33,"T":17.5},{"pos":36,"A":16.2,"C":34.3,"G":33.2,"T":16.3},{"pos":37,"A":16,"C":33.5,"G":34.8,"T":15.8},{"pos":38,"A":17.4,"C":32.5,"G":33.2,"T":17.2},{"pos":39,"A":16.3,"C":33.8,"G":33.8,"T":16.4}],
"nebnext_bpertussis":[
{"pos":-10,"A":17.9,"C":32.7,"G":31.4,"T":18.3},{"pos":-9,"A":16.2,"C":34,"G":34,"T":16.1},{"pos":-8,"A":18.3,"C":31.3,"G":32.8,"T":18},{"pos":-7,"A":18.2,"C":32.3,"G":31.5,"T":18.4},{"pos":-6,"A":16,"C":34.3,"G":33.9,"T":16.5},{"pos":-5,"A":18.3,"C":31.4,"G":32.7,"T":18.3},{"pos":-4,"A":18.6,"C":31.7,"G":31.5,"T":18.6},{"pos":-3,"A":13.8,"C":31.7,"G":39.9,"T":14.9},{"pos":-2,"A":15.5,"C":35.6,"G":36,"T":14.2},{"pos":-1,"A":22.3,"C":39.5,"G":16,"T":22.3},
{"pos":0,"A":22.5,"C":29.2,"G":40.6,"T":8.2},{"pos":1,"A":15.5,"C":27.2,"G":26.8,"T":31.2},{"pos":2,"A":15.7,"C":33,"G":29,"T":23.5},{"pos":3,"A":16.3,"C":33.8,"G":34.6,"T":15.5},{"pos":4,"A":20.3,"C":30.8,"G":32.3,"T":16.3},{"pos":5,"A":17.9,"C":32.2,"G":32.1,"T":17.9},{"pos":6,"A":16.8,"C":32.7,"G":35.9,"T":15.1},{"pos":7,"A":17.8,"C":32.9,"G":31.5,"T":18.3},{"pos":8,"A":17,"C":32.9,"G":31.3,"T":19.1},{"pos":9,"A":15.6,"C":34.3,"G":34.8,"T":15.8},
{"pos":10,"A":18.1,"C":31.6,"G":33,"T":17.7},{"pos":11,"A":17.8,"C":32.6,"G":31.8,"T":18.1},{"pos":12,"A":16.1,"C":34.1,"G":34.2,"T":16},{"pos":13,"A":18.4,"C":31.8,"G":32.5,"T":17.5},{"pos":14,"A":17.8,"C":32.5,"G":31.7,"T":18},{"pos":15,"A":16.2,"C":34.1,"G":34.3,"T":16.1},{"pos":16,"A":18.1,"C":31.7,"G":32.6,"T":17.9},{"pos":17,"A":17.6,"C":32.4,"G":31.6,"T":18.3},{"pos":18,"A":16.3,"C":33.9,"G":34.2,"T":16.3},{"pos":19,"A":18.3,"C":31.3,"G":32.6,"T":18},
{"pos":20,"A":18,"C":32.5,"G":31.5,"T":18.3},{"pos":21,"A":16.2,"C":33.9,"G":34,"T":16.2},{"pos":22,"A":18.3,"C":31.8,"G":32.5,"T":17.9},{"pos":23,"A":17.8,"C":32.6,"G":31.5,"T":18.6},{"pos":24,"A":16.3,"C":34.1,"G":34.4,"T":16.1},{"pos":25,"A":18.2,"C":31.4,"G":32.7,"T":17.9},{"pos":26,"A":17.9,"C":32.5,"G":31.6,"T":18.2},{"pos":27,"A":16.3,"C":34,"G":34.1,"T":16},{"pos":28,"A":18.1,"C":31.3,"G":32.6,"T":18},{"pos":29,"A":18,"C":32.7,"G":31.4,"T":18.1},
{"pos":30,"A":16.1,"C":34,"G":34.1,"T":16},{"pos":31,"A":18.5,"C":31.3,"G":32.2,"T":17.8},{"pos":32,"A":17.9,"C":32.4,"G":31.6,"T":18},{"pos":33,"A":16,"C":34,"G":34.1,"T":16.3},{"pos":34,"A":18.5,"C":31.2,"G":32.5,"T":18.2},{"pos":35,"A":17.9,"C":32.6,"G":31.3,"T":18.8},{"pos":36,"A":16.3,"C":33.9,"G":34.2,"T":16.3},{"pos":37,"A":18.1,"C":31.3,"G":32.6,"T":18},{"pos":38,"A":17.8,"C":32.9,"G":31.4,"T":18.4},{"pos":39,"A":16.4,"C":33.8,"G":34.3,"T":16.1}],
"nextera_bpertussis":[
{"pos":-10,"A":17.2,"C":33,"G":33.2,"T":17.5},{"pos":-9,"A":16.8,"C":33.8,"G":33.8,"T":16.6},{"pos":-8,"A":17.4,"C":32.4,"G":33.7,"T":17.3},{"pos":-7,"A":16.9,"C":33.3,"G":32.6,"T":17.9},{"pos":-6,"A":14.5,"C":36.1,"G":32.7,"T":17.6},{"pos":-5,"A":17.1,"C":29.3,"G":40,"T":14.3},{"pos":-4,"A":17.6,"C":37.3,"G":30.5,"T":15},{"pos":-3,"A":18.5,"C":31.8,"G":34.8,"T":15.6},{"pos":-2,"A":17.1,"C":42.4,"G":25.5,"T":15.7},{"pos":-1,"A":21.9,"C":21,"G":35.6,"T":21.7},
{"pos":0,"A":13.8,"C":32.3,"G":42,"T":12.5},{"pos":1,"A":13.9,"C":34.7,"G":30,"T":22.2},{"pos":2,"A":16.1,"C":36.6,"G":30,"T":18},{"pos":3,"A":13.5,"C":39.7,"G":27.6,"T":20},{"pos":4,"A":21,"C":28.8,"G":30,"T":20.6},{"pos":5,"A":20.7,"C":26.6,"G":38.7,"T":15.1},{"pos":6,"A":17.5,"C":31.3,"G":36.6,"T":15.6},{"pos":7,"A":20.3,"C":31.1,"G":34.5,"T":14.7},{"pos":8,"A":14,"C":39.8,"G":31,"T":15.6},{"pos":9,"A":16.5,"C":36.1,"G":29.8,"T":18.3},
{"pos":10,"A":16.7,"C":27.8,"G":40,"T":16.4},{"pos":11,"A":16.3,"C":33.8,"G":31.5,"T":19.1},{"pos":12,"A":14.4,"C":33.5,"G":36.8,"T":16.5},{"pos":13,"A":14.6,"C":37.8,"G":31.7,"T":16.7},{"pos":14,"A":17.5,"C":33.3,"G":34.1,"T":15.9},{"pos":15,"A":16.9,"C":33.6,"G":34.8,"T":15.7},{"pos":16,"A":17.6,"C":32.8,"G":33.4,"T":17},{"pos":17,"A":17.5,"C":33,"G":32.6,"T":17.6},{"pos":18,"A":16.6,"C":33.5,"G":34.1,"T":16.5},{"pos":19,"A":17.2,"C":32.9,"G":34.1,"T":16.7},
{"pos":20,"A":17.2,"C":33.1,"G":33,"T":17.1},{"pos":21,"A":16.1,"C":34.3,"G":34.5,"T":16.3},{"pos":22,"A":17.1,"C":32.9,"G":33.9,"T":16.8},{"pos":23,"A":17.2,"C":33,"G":33.5,"T":17.2},{"pos":24,"A":16.1,"C":34,"G":34.3,"T":16.3},{"pos":25,"A":17.1,"C":33,"G":33.8,"T":17.1},{"pos":26,"A":17.2,"C":33.1,"G":33.3,"T":17.3},{"pos":27,"A":16.4,"C":34,"G":34.3,"T":16.3},{"pos":28,"A":17.3,"C":33.4,"G":33.5,"T":16.8},{"pos":29,"A":17.3,"C":33,"G":33.1,"T":17.4},
{"pos":30,"A":16.2,"C":33.9,"G":34.5,"T":16.2},{"pos":31,"A":17.4,"C":32.7,"G":34,"T":16.9},{"pos":32,"A":17.2,"C":33.2,"G":33.5,"T":17.1},{"pos":33,"A":16.1,"C":34.1,"G":34.1,"T":16.2},{"pos":34,"A":17,"C":32.9,"G":34,"T":17.1},{"pos":35,"A":17,"C":33,"G":33.2,"T":17.4},{"pos":36,"A":16.3,"C":34.3,"G":34.2,"T":16.2},{"pos":37,"A":17.3,"C":33.1,"G":33.4,"T":17.1},{"pos":38,"A":17,"C":33.1,"G":33.2,"T":17.6},{"pos":39,"A":16.1,"C":33.8,"G":34.5,"T":16.3}]
},
"vconcat":[
{"title":{"text":"C. difficile","orient":"left","anchor":"middle","fontSize":25,"fontStyle":"italic","fontWeight":"bold","color":"#1a1a1a","offset":23,"dx":20.5},
 "bounds":"flush","spacing":72,
 "resolve":{"scale":{"color":"independent"},"legend":{"color":"independent"}},
 "hconcat":[
 {"width":296,"height":228,"title":{"text":"HyperPrep","frame":"group","anchor":"middle","baseline":"alphabetic","offset":-24},"data":{"name":"hyperprep_cdifficile"},"transform":[{"fold":["A","T","C","G"],"as":["base","pct"]}],"mark":{"type":"line","strokeWidth":1.6},
  "encoding":{"x":{"field":"pos","type":"quantitative","scale":{"domain":[-10,40],"nice":false},"axis":{"values":[-10,0,10,20,30],"title":"Position"}},"y":{"field":"pct","type":"quantitative","scale":{"domain":[0,50],"nice":false},"axis":{"values":[0,10,20,30,40,50],"title":"%"}},
  "color":{"field":"base","type":"nominal","scale":{"domain":["A","C","T","G"],"range":["#0a6ebd","#ec1c45","#8bc53f","#f7931e"]},"legend":{"title":null,"orient":"top-right","columns":2,"symbolType":"square","symbolSize":120,"symbolStrokeWidth":0,"symbolOpacity":1,"labelFontSize":14,"labelFont":"Roboto","labelColor":"#333333","columnPadding":9,"rowPadding":5,"offset":4,"padding":0,"labelOffset":7,"encode":{"symbols":{"update":{"fill":{"signal":"datum.value==='A'?'#0a6ebd':datum.value==='T'?'#8bc53f':datum.value==='C'?'#ec1c45':'#f7931e'"}}}}}}}},
 {"width":296,"height":228,"title":{"text":"HyperPlus","frame":"group","anchor":"middle","baseline":"alphabetic","offset":-24},"data":{"name":"hyperplus_cdifficile"},"transform":[{"fold":["A","T","C","G"],"as":["base","pct"]}],"mark":{"type":"line","strokeWidth":1.6},
  "encoding":{"x":{"field":"pos","type":"quantitative","scale":{"domain":[-10,40],"nice":false},"axis":{"values":[-10,0,10,20,30],"title":"Position"}},"y":{"field":"pct","type":"quantitative","scale":{"domain":[0,50],"nice":false},"axis":{"values":[0,10,20,30,40,50],"title":"%"}},
  "color":{"field":"base","type":"nominal","scale":{"domain":["A","C","T","G"],"range":["#0a6ebd","#ec1c45","#8bc53f","#f7931e"]},"legend":null}}},
 {"width":296,"height":228,"title":{"text":"NEBNext","frame":"group","anchor":"middle","baseline":"alphabetic","offset":-24},"data":{"name":"nebnext_cdifficile"},"transform":[{"fold":["A","T","C","G"],"as":["base","pct"]}],"mark":{"type":"line","strokeWidth":1.6},
  "encoding":{"x":{"field":"pos","type":"quantitative","scale":{"domain":[-10,40],"nice":false},"axis":{"values":[-10,0,10,20,30],"title":"Position"}},"y":{"field":"pct","type":"quantitative","scale":{"domain":[0,50],"nice":false},"axis":{"values":[0,10,20,30,40,50],"title":"%"}},
  "color":{"field":"base","type":"nominal","scale":{"domain":["A","C","T","G"],"range":["#0a6ebd","#ec1c45","#8bc53f","#f7931e"]},"legend":null}}},
 {"width":296,"height":228,"title":{"text":"Nextera","frame":"group","anchor":"middle","baseline":"alphabetic","offset":-24},"data":{"name":"nextera_cdifficile"},"transform":[{"fold":["A","T","C","G"],"as":["base","pct"]}],"mark":{"type":"line","strokeWidth":1.6},
  "encoding":{"x":{"field":"pos","type":"quantitative","scale":{"domain":[-10,40],"nice":false},"axis":{"values":[-10,0,10,20,30],"title":"Position"}},"y":{"field":"pct","type":"quantitative","scale":{"domain":[0,50],"nice":false},"axis":{"values":[0,10,20,30,40,50],"title":"%"}},
  "color":{"field":"base","type":"nominal","scale":{"domain":["A","C","T","G"],"range":["#0a6ebd","#ec1c45","#8bc53f","#f7931e"]},"legend":null}}}
 ]},
{"title":{"text":"E. coli","orient":"left","anchor":"middle","fontSize":25,"fontStyle":"italic","fontWeight":"bold","color":"#1a1a1a","offset":23,"dx":11},
 "bounds":"flush","spacing":72,
 "resolve":{"scale":{"color":"independent"},"legend":{"color":"independent"}},
 "hconcat":[
 {"width":296,"height":228,"data":{"name":"hyperprep_ecoli"},"transform":[{"fold":["A","T","C","G"],"as":["base","pct"]}],"mark":{"type":"line","strokeWidth":1.6},
  "encoding":{"x":{"field":"pos","type":"quantitative","scale":{"domain":[-10,40],"nice":false},"axis":{"values":[-10,0,10,20,30],"title":"Position"}},"y":{"field":"pct","type":"quantitative","scale":{"domain":[0,50],"nice":false},"axis":{"values":[0,10,20,30,40,50],"title":"%"}},
  "color":{"field":"base","type":"nominal","scale":{"domain":["A","C","T","G"],"range":["#0a6ebd","#ec1c45","#8bc53f","#f7931e"]},"legend":{"title":null,"orient":"top-right","columns":2,"symbolType":"square","symbolSize":120,"symbolStrokeWidth":0,"symbolOpacity":1,"labelFontSize":14,"labelFont":"Roboto","labelColor":"#333333","columnPadding":9,"rowPadding":5,"offset":4,"padding":0,"labelOffset":7,"encode":{"symbols":{"update":{"fill":{"signal":"datum.value==='A'?'#0a6ebd':datum.value==='T'?'#8bc53f':datum.value==='C'?'#ec1c45':'#f7931e'"}}}}}}}},
 {"width":296,"height":228,"data":{"name":"hyperplus_ecoli"},"transform":[{"fold":["A","T","C","G"],"as":["base","pct"]}],"mark":{"type":"line","strokeWidth":1.6},
  "encoding":{"x":{"field":"pos","type":"quantitative","scale":{"domain":[-10,40],"nice":false},"axis":{"values":[-10,0,10,20,30],"title":"Position"}},"y":{"field":"pct","type":"quantitative","scale":{"domain":[0,50],"nice":false},"axis":{"values":[0,10,20,30,40,50],"title":"%"}},
  "color":{"field":"base","type":"nominal","scale":{"domain":["A","C","T","G"],"range":["#0a6ebd","#ec1c45","#8bc53f","#f7931e"]},"legend":null}}},
 {"width":296,"height":228,"data":{"name":"nebnext_ecoli"},"transform":[{"fold":["A","T","C","G"],"as":["base","pct"]}],"mark":{"type":"line","strokeWidth":1.6},
  "encoding":{"x":{"field":"pos","type":"quantitative","scale":{"domain":[-10,40],"nice":false},"axis":{"values":[-10,0,10,20,30],"title":"Position"}},"y":{"field":"pct","type":"quantitative","scale":{"domain":[0,50],"nice":false},"axis":{"values":[0,10,20,30,40,50],"title":"%"}},
  "color":{"field":"base","type":"nominal","scale":{"domain":["A","C","T","G"],"range":["#0a6ebd","#ec1c45","#8bc53f","#f7931e"]},"legend":null}}},
 {"width":296,"height":228,"data":{"name":"nextera_ecoli"},"transform":[{"fold":["A","T","C","G"],"as":["base","pct"]}],"mark":{"type":"line","strokeWidth":1.6},
  "encoding":{"x":{"field":"pos","type":"quantitative","scale":{"domain":[-10,40],"nice":false},"axis":{"values":[-10,0,10,20,30],"title":"Position"}},"y":{"field":"pct","type":"quantitative","scale":{"domain":[0,50],"nice":false},"axis":{"values":[0,10,20,30,40,50],"title":"%"}},
  "color":{"field":"base","type":"nominal","scale":{"domain":["A","C","T","G"],"range":["#0a6ebd","#ec1c45","#8bc53f","#f7931e"]},"legend":null}}}
 ]},
{"title":{"text":"B. pertussis","orient":"left","anchor":"middle","fontSize":25,"fontStyle":"italic","fontWeight":"bold","color":"#1a1a1a","offset":23,"dx":-13},
 "bounds":"flush","spacing":72,
 "resolve":{"scale":{"color":"independent"},"legend":{"color":"independent"}},
 "hconcat":[
 {"width":296,"height":228,"data":{"name":"hyperprep_bpertussis"},"transform":[{"fold":["A","T","C","G"],"as":["base","pct"]}],"mark":{"type":"line","strokeWidth":1.6},
  "encoding":{"x":{"field":"pos","type":"quantitative","scale":{"domain":[-10,40],"nice":false},"axis":{"values":[-10,0,10,20,30],"title":"Position"}},"y":{"field":"pct","type":"quantitative","scale":{"domain":[0,50],"nice":false},"axis":{"values":[0,10,20,30,40,50],"title":"%"}},
  "color":{"field":"base","type":"nominal","scale":{"domain":["A","C","T","G"],"range":["#0a6ebd","#ec1c45","#8bc53f","#f7931e"]},"legend":{"title":null,"orient":"top-right","columns":2,"symbolType":"square","symbolSize":120,"symbolStrokeWidth":0,"symbolOpacity":1,"labelFontSize":14,"labelFont":"Roboto","labelColor":"#333333","columnPadding":9,"rowPadding":5,"offset":4,"padding":0,"labelOffset":7,"encode":{"symbols":{"update":{"fill":{"signal":"datum.value==='A'?'#0a6ebd':datum.value==='T'?'#8bc53f':datum.value==='C'?'#ec1c45':'#f7931e'"}}}}}}}},
 {"width":296,"height":228,"data":{"name":"hyperplus_bpertussis"},"transform":[{"fold":["A","T","C","G"],"as":["base","pct"]}],"mark":{"type":"line","strokeWidth":1.6},
  "encoding":{"x":{"field":"pos","type":"quantitative","scale":{"domain":[-10,40],"nice":false},"axis":{"values":[-10,0,10,20,30],"title":"Position"}},"y":{"field":"pct","type":"quantitative","scale":{"domain":[0,50],"nice":false},"axis":{"values":[0,10,20,30,40,50],"title":"%"}},
  "color":{"field":"base","type":"nominal","scale":{"domain":["A","C","T","G"],"range":["#0a6ebd","#ec1c45","#8bc53f","#f7931e"]},"legend":null}}},
 {"width":296,"height":228,"data":{"name":"nebnext_bpertussis"},"transform":[{"fold":["A","T","C","G"],"as":["base","pct"]}],"mark":{"type":"line","strokeWidth":1.6},
  "encoding":{"x":{"field":"pos","type":"quantitative","scale":{"domain":[-10,40],"nice":false},"axis":{"values":[-10,0,10,20,30],"title":"Position"}},"y":{"field":"pct","type":"quantitative","scale":{"domain":[0,50],"nice":false},"axis":{"values":[0,10,20,30,40,50],"title":"%"}},
  "color":{"field":"base","type":"nominal","scale":{"domain":["A","C","T","G"],"range":["#0a6ebd","#ec1c45","#8bc53f","#f7931e"]},"legend":null}}},
 {"width":296,"height":228,"data":{"name":"nextera_bpertussis"},"transform":[{"fold":["A","T","C","G"],"as":["base","pct"]}],"mark":{"type":"line","strokeWidth":1.6},
  "encoding":{"x":{"field":"pos","type":"quantitative","scale":{"domain":[-10,40],"nice":false},"axis":{"values":[-10,0,10,20,30],"title":"Position"}},"y":{"field":"pct","type":"quantitative","scale":{"domain":[0,50],"nice":false},"axis":{"values":[0,10,20,30,40,50],"title":"%"}},
  "color":{"field":"base","type":"nominal","scale":{"domain":["A","C","T","G"],"range":["#0a6ebd","#ec1c45","#8bc53f","#f7931e"]},"legend":null}}}
 ]}
],
"config":{
 "font":"Roboto",
 "view":{"fill":"#ececec","stroke":null},
 "axis":{"grid":true,"gridColor":"#ffffff","gridWidth":1.4,"domain":false,"ticks":false,"labelFont":"Roboto","labelFontSize":14,"labelColor":"#2b2b2b","labelFlush":false,"titleFont":"Roboto","titleColor":"#808080","titleFontWeight":"bold"},
 "axisX":{"titleFontSize":17,"titlePadding":5,"labelPadding":5},
 "axisY":{"titleFontSize":17,"titlePadding":2,"labelPadding":5},
 "title":{"font":"Roboto","fontSize":23,"fontWeight":"bold","color":"#1a1a1a"}
}
}
